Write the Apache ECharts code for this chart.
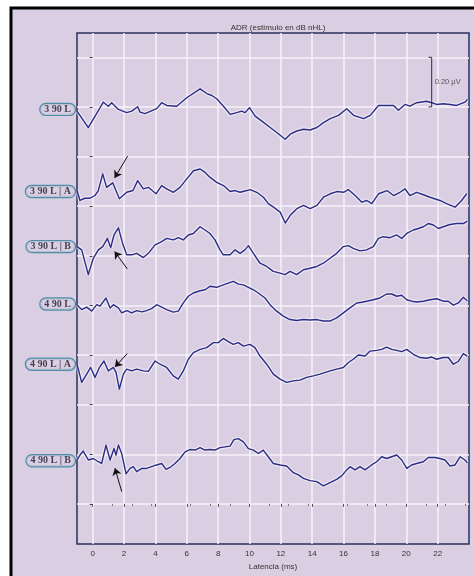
<!DOCTYPE html>
<html>
<head>
<meta charset="utf-8">
<title>ADR</title>
<script src="https://cdn.jsdelivr.net/npm/echarts@6/dist/echarts.min.js"></script>
<style>
  html, body { margin: 0; padding: 0; background: #fff; }
  #adrEchart { width: 474px; height: 576px; }
</style>
</head>
<body>
<div id="adrEchart"></div>
<script>
// [latencia (ms), amplitud (µV) respecto a la línea base del trazo]
const trace1 = [[-1,-0.007],[-0.28,-0.073],[0.68,0.029],[1.0,0.013],[1.21,0.027],[1.64,0],[2.17,-0.013],[2.49,-0.007],[2.87,0.011],[3.02,-0.011],[3.34,-0.017],[4.08,0.003],[4.4,0.027],[4.72,0.016],[5.36,0.013],[6.0,0.047],[6.85,0.083],[7.28,0.064],[7.6,0.056],[7.91,0.043],[8.34,0.013],[8.77,-0.02],[9.19,-0.013],[9.5,-0.007],[9.72,-0.013],[10.0,0.007],[10.36,-0.027],[10.79,-0.047],[11.32,-0.073],[11.74,-0.093],[12.28,-0.12],[12.6,-0.1],[13.02,-0.087],[13.45,-0.08],[13.87,-0.083],[14.3,-0.073],[14.72,-0.053],[15.15,-0.037],[15.68,-0.024],[16.2,0.003],[16.64,-0.024],[17.28,-0.037],[17.7,-0.024],[18.23,0.016],[18.77,0.016],[19.19,0.016],[19.5,-0.003],[19.92,0.02],[20.23,0.013],[20.66,0.027],[21.3,0.033],[21.62,0.027],[21.94,0.02],[22.36,0.023],[22.79,0.02],[23.21,0.016],[23.74,0.029],[23.9,0.04]]
const trace2 = [[-1,0.004],[-0.81,-0.036],[-0.5,-0.027],[-0.17,-0.027],[0.15,-0.016],[0.36,0.004],[0.64,0.071],[0.89,0.017],[1.28,0.035],[1.7,-0.029],[2.17,-0.003],[2.57,0.004],[2.87,0.044],[3.23,0.011],[3.55,0.017],[4.04,-0.009],[4.4,0.024],[4.72,0.011],[5.15,-0.003],[5.57,0.017],[6.0,0.051],[6.43,0.084],[6.85,0.091],[7.17,0.077],[7.49,0.057],[7.91,0.037],[8.34,0.024],[8.77,0],[9.08,0.004],[9.4,-0.003],[9.83,0.004],[10.04,0.008],[10.46,-0.003],[10.89,-0.023],[11.2,-0.049],[11.53,-0.063],[11.96,-0.083],[12.28,-0.127],[12.6,-0.096],[13.02,-0.069],[13.45,-0.056],[13.87,-0.069],[14.3,-0.056],[14.72,-0.023],[15.15,-0.009],[15.57,0],[16.0,-0.003],[16.3,0.008],[16.74,-0.016],[17.17,-0.043],[17.49,-0.036],[17.8,-0.049],[18.23,-0.009],[18.77,0.004],[19.19,-0.016],[19.6,-0.003],[19.92,0.011],[20.23,-0.016],[20.66,-0.003],[21.09,-0.013],[21.51,-0.023],[22.15,-0.036],[22.57,-0.049],[23.11,-0.063],[23.53,-0.036],[23.85,-0.009]]
const trace3 = [[-1,0],[-0.7,-0.013],[-0.28,-0.113],[0.04,-0.047],[0.36,-0.013],[0.64,0],[0.94,0.033],[1.15,-0.004],[1.36,0.047],[1.64,0.076],[1.91,0.013],[2.17,-0.033],[2.49,-0.033],[2.81,-0.027],[3.23,-0.044],[3.55,-0.027],[3.98,0.007],[4.4,0.02],[4.72,0.033],[5.15,0.027],[5.46,0.036],[5.78,0.027],[6.1,0.047],[6.42,0.053],[6.85,0.08],[7.17,0.067],[7.48,0.053],[7.8,0.027],[8.12,-0.013],[8.33,-0.033],[8.76,-0.033],[9.08,-0.013],[9.4,-0.027],[9.71,-0.013],[9.93,0.004],[10.25,-0.027],[10.67,-0.067],[11.1,-0.08],[11.52,-0.1],[11.95,-0.107],[12.27,-0.113],[12.59,-0.1],[13.01,-0.113],[13.44,-0.093],[13.86,-0.087],[14.29,-0.08],[14.71,-0.067],[15.14,-0.047],[15.56,-0.027],[15.99,0],[16.31,0.004],[16.62,-0.007],[17.05,-0.017],[17.47,-0.013],[17.9,0],[18.22,0.033],[18.54,0.04],[18.96,0.036],[19.39,0.047],[19.71,0.033],[20.03,0.053],[20.45,0.067],[20.77,0.073],[21.09,0.08],[21.4,0.093],[21.73,0.087],[22.05,0.073],[22.36,0.08],[22.79,0.089],[23.21,0.093],[23.64,0.093],[23.89,0.103]]
const trace4 = [[-1,-0.003],[-0.7,-0.023],[-0.38,-0.013],[-0.06,-0.029],[0.26,-0.003],[0.47,-0.009],[0.85,0.024],[1.11,-0.016],[1.32,-0.003],[1.64,-0.016],[1.85,-0.036],[2.17,-0.027],[2.49,-0.036],[2.81,-0.027],[3.13,-0.032],[3.44,-0.027],[3.76,-0.019],[4.08,-0.003],[4.4,-0.013],[4.72,-0.023],[5.15,-0.033],[5.46,-0.029],[5.78,0.004],[6.1,0.031],[6.42,0.044],[6.85,0.053],[7.17,0.057],[7.48,0.071],[7.91,0.067],[8.33,0.077],[8.65,0.084],[8.97,0.091],[9.29,0.08],[9.61,0.077],[9.93,0.067],[10.25,0.057],[10.56,0.044],[10.99,0.024],[11.31,-0.003],[11.73,-0.029],[12.16,-0.049],[12.58,-0.063],[13.01,-0.067],[13.44,-0.063],[13.86,-0.065],[14.29,-0.063],[14.71,-0.069],[15.14,-0.069],[15.56,-0.056],[15.99,-0.036],[16.41,-0.016],[16.84,0.004],[17.16,0.007],[17.47,0.011],[17.9,0.017],[18.32,0.024],[18.75,0.04],[19.07,0.04],[19.39,0.031],[19.71,0.035],[20.03,0.017],[20.34,0.011],[20.66,0.008],[21.09,0.011],[21.51,0.017],[21.94,0.021],[22.36,0.011],[22.68,0.011],[23.0,-0.005],[23.32,0.004],[23.64,0.027],[23.89,0.013]]
const trace5 = [[-1,0],[-0.7,-0.073],[-0.38,-0.04],[-0.13,-0.013],[0.15,-0.053],[0.43,-0.013],[0.72,0.013],[1.0,-0.027],[1.32,-0.013],[1.49,-0.033],[1.7,-0.1],[1.96,-0.04],[2.17,-0.02],[2.49,-0.027],[2.81,-0.02],[3.23,-0.027],[3.55,-0.029],[3.98,0.013],[4.29,0],[4.72,-0.013],[5.14,-0.047],[5.46,-0.06],[5.78,-0.027],[6.1,0.02],[6.42,0.047],[6.85,0.06],[7.27,0.067],[7.7,0.087],[8.01,0.087],[8.33,0.104],[8.65,0.091],[8.97,0.08],[9.29,0.087],[9.61,0.073],[10.03,0.08],[10.35,0.067],[10.67,0.033],[11.1,0],[11.52,-0.04],[11.95,-0.06],[12.37,-0.073],[12.8,-0.067],[13.22,-0.064],[13.65,-0.053],[14.07,-0.047],[14.5,-0.04],[15.14,-0.027],[15.56,-0.02],[15.99,-0.013],[16.31,0.007],[16.62,0.02],[16.94,0.037],[17.37,0.033],[17.69,0.053],[18.11,0.056],[18.43,0.06],[18.75,0.069],[19.07,0.06],[19.39,0.056],[19.71,0.051],[20.03,0.06],[20.45,0.04],[20.88,0.027],[21.3,0.024],[21.62,0.029],[21.94,0.02],[22.36,0.027],[22.68,0.027],[23.0,0],[23.32,0.011],[23.64,0.043],[23.89,0.033]]
const trace6 = [[-1,0.003],[-0.81,0.023],[-0.6,0.039],[-0.28,0.003],[0.04,0.009],[0.36,-0.004],[0.57,-0.011],[0.85,0.063],[1.11,0.003],[1.36,0.049],[1.49,0.023],[1.64,0.063],[1.85,0.029],[2.13,-0.053],[2.38,-0.031],[2.59,-0.024],[2.81,-0.044],[3.13,-0.031],[3.44,-0.031],[3.76,-0.024],[4.08,-0.017],[4.4,-0.011],[4.68,-0.035],[4.93,-0.027],[5.25,-0.011],[5.57,0.009],[5.89,0.036],[6.2,0.045],[6.53,0.043],[6.85,0.053],[7.16,0.043],[7.48,0.045],[7.8,0.043],[8.12,0.053],[8.44,0.056],[8.76,0.059],[9.01,0.085],[9.29,0.089],[9.61,0.076],[9.93,0.049],[10.25,0.043],[10.57,0.029],[10.88,0.043],[11.2,0.016],[11.52,-0.011],[11.95,-0.017],[12.37,-0.021],[12.8,-0.048],[13.12,-0.057],[13.44,-0.071],[13.86,-0.08],[14.29,-0.084],[14.71,-0.101],[15.14,-0.088],[15.56,-0.075],[15.88,-0.061],[16.2,-0.037],[16.41,-0.024],[16.73,-0.037],[17.05,-0.024],[17.37,-0.037],[17.79,-0.017],[18.11,-0.004],[18.43,0.016],[18.75,0.009],[19.07,0.016],[19.39,0.023],[19.71,0.003],[20.03,-0.031],[20.34,-0.017],[20.66,-0.011],[21.09,-0.004],[21.4,0.013],[21.83,0.013],[22.15,0.009],[22.47,0.003],[22.79,-0.021],[23.11,-0.017],[23.43,0.016],[23.74,0.003],[23.89,-0.008]]

const traces = [trace1, trace2, trace3, trace4, trace5, trace6]
const traceLabels = ['3 90 L', '3 90 L | A', '3 90 L | B', '4 90 L', '4 90 L | A', '4 90 L | B']
// línea base de cada trazo en el eje vertical (µV)
const baselines = [1.59, 1.259, 1.037, 0.806, 0.563, 0.174]
const xTicks = [0, 2, 4, 6, 8, 10, 12, 14, 16, 18, 20, 22]
const yGrid = [0, 0.2, 0.4, 0.6, 0.8, 1.0, 1.2, 1.4, 1.6, 1.8]
// flechas: [cola, punta] en (ms, µV)
const arrows = [
  [[2.23, 1.402], [1.4, 1.314]],
  [[2.21, 0.947], [1.4, 1.017]],
  [[2.21, 0.606], [1.42, 0.552]],
  [[1.85, 0.05], [1.42, 0.144]],
]
const scaleBarX = 21.62
const scaleBarFrom = 1.6
const scaleBarSize = 0.2

const bg = '#dacee2'
const traceColor = '#2c2d86'

const series = []
traces.forEach((tr, i) => {
  const data = tr.map(p => [p[0], p[1] + baselines[i]])
  // halo claro alrededor del trazo
  series.push({
    type: 'line',
    data: data,
    symbol: 'none',
    silent: true,
    z: 2,
    lineStyle: { color: '#ffffff', width: 4, opacity: 0.5 },
  })
  series.push({
    name: traceLabels[i],
    type: 'line',
    data: data,
    symbol: 'none',
    z: 3,
    lineStyle: { color: traceColor, width: 1.4, join: 'round' },
  })
})

// etiquetas de cada trazo
series.push({
  type: 'scatter',
  symbolSize: 0,
  clip: false,
  silent: true,
  z: 5,
  data: baselines.map((b, i) => ({ value: [-1, b], label: { formatter: traceLabels[i] } })),
  label: {
    show: true,
    position: 'left',
    distance: 2,
    color: '#1b1b2b',
    fontFamily: 'Liberation Serif',
    fontWeight: 'bold',
    fontSize: 10,
    lineHeight: 10,
    backgroundColor: bg,
    borderColor: '#2c7d98',
    borderWidth: 1.2,
    borderRadius: 6,
    padding: [1, 4, 0, 4],
  },
})

// barra de escala y flechas
series.push({
  type: 'line',
  symbol: 'none',
  silent: true,
  z: 4,
  data: [
    [scaleBarX - 0.2, scaleBarFrom],
    [scaleBarX, scaleBarFrom],
    [scaleBarX, scaleBarFrom + scaleBarSize],
    [scaleBarX - 0.2, scaleBarFrom + scaleBarSize],
  ],
  lineStyle: { color: '#253060', width: 1 },
  markLine: {
    silent: true,
    symbol: ['none', 'arrow'],
    symbolSize: 7,
    label: { show: false },
    lineStyle: { color: '#111', width: 1, type: 'solid' },
    data: arrows.map(a => [{ coord: a[0] }, { coord: a[1] }]),
  },
})
series.push({
  type: 'scatter',
  symbolSize: 0,
  silent: true,
  data: [[scaleBarX, scaleBarFrom + scaleBarSize / 2]],
  label: {
    show: true,
    position: 'right',
    distance: 3,
    formatter: '0.20 µV',
    fontSize: 7.5,
    color: '#333',
    fontFamily: 'Liberation Sans',
  },
})

const option = {
  backgroundColor: '#ffffff',
  animation: false,
  graphic: [
    {
      type: 'rect',
      z: -10,
      shape: { x: 11, y: 8, width: 480, height: 590 },
      style: { fill: bg, stroke: '#000', lineWidth: 3 },
    },
  ],
  title: {
    text: 'ADR (estímulo en dB nHL)',
    left: 273,
    top: 19,
    textAlign: 'center',
    textStyle: { fontSize: 8, fontWeight: 'normal', color: '#333', fontFamily: 'Liberation Sans' },
  },
  grid: {
    left: 77,
    top: 33,
    right: 5,
    bottom: 28,
    show: true,
    backgroundColor: bg,
    borderColor: '#2b2e5c',
    borderWidth: 1.5,
  },
  xAxis: {
    type: 'value',
    min: -1,
    max: 24,
    name: 'Latencia (ms)',
    nameLocation: 'middle',
    nameGap: 18,
    nameTextStyle: { fontSize: 8, color: '#333', fontFamily: 'Liberation Sans' },
    axisLine: { show: false },
    axisTick: { show: true, customValues: xTicks, length: 3, lineStyle: { color: '#555' } },
    minorTick: { show: true, splitNumber: 4, length: 2, lineStyle: { color: '#777' } },
    axisLabel: { customValues: xTicks, fontSize: 8, color: '#333', margin: 6, fontFamily: 'Liberation Sans' },
    splitLine: { show: true, lineStyle: { color: '#f6f2f8', width: 1.5 } },
  },
  yAxis: {
    type: 'value',
    min: -0.162,
    max: 1.898,
    axisLine: { show: false },
    axisTick: { show: true, customValues: yGrid, length: 3, lineStyle: { color: '#444' } },
    axisLabel: { show: false },
    splitLine: { show: true, lineStyle: { color: '#f6f2f8', width: 1.5 } },
  },
  series: series,
}

const chart = echarts.init(document.getElementById('adrEchart'))
chart.setOption(option)
window.onresize = function () {
  chart.resize()
}
</script>
</body>
</html>
